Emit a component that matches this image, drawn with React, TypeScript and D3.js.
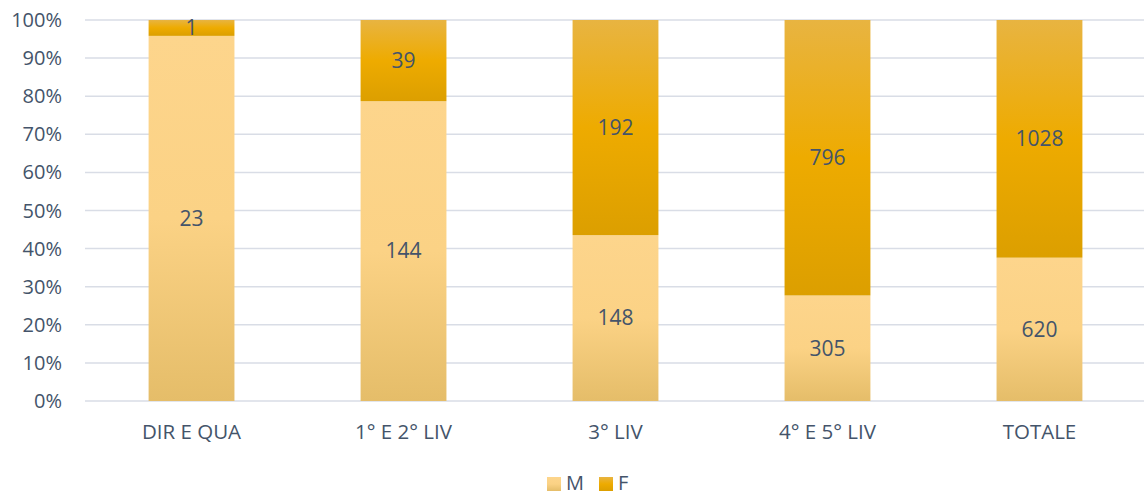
import { useEffect, useRef } from "react";
import * as d3 from "d3";

const categories = ["DIR E QUA", "1° E 2° LIV", "3° LIV", "4° E 5° LIV", "TOTALE"];
const maleValues = [23, 144, 148, 305, 620];
const femaleValues = [1, 39, 192, 796, 1028];
const yTicks = [0, 0.1, 0.2, 0.3, 0.4, 0.5, 0.6, 0.7, 0.8, 0.9, 1];
const seriesNames = ["M", "F"];

export default function App() {
  const ref = useRef<SVGSVGElement | null>(null);

  useEffect(() => {
    if (!ref.current) return;
    const svg = d3.select(ref.current);
    svg.selectAll("*").remove();

    const width = 1144;
    const height = 495;
    const margin = { top: 20, right: -2, bottom: 94, left: 85 };
    const font = "'Open Sans', 'Noto Sans', sans-serif";
    const textColor = "#44546a";

    const defs = svg.append("defs");
    const gM = defs.append("linearGradient").attr("id", "gradM").attr("x1", 0).attr("y1", 0).attr("x2", 0).attr("y2", 1);
    gM.append("stop").attr("offset", "0%").attr("stop-color", "#fdd58c");
    gM.append("stop").attr("offset", "50%").attr("stop-color", "#fbd285");
    gM.append("stop").attr("offset", "100%").attr("stop-color", "#e5bd69");
    const gF = defs.append("linearGradient").attr("id", "gradF").attr("x1", 0).attr("y1", 0).attr("x2", 0).attr("y2", 1);
    gF.append("stop").attr("offset", "0%").attr("stop-color", "#e8b441");
    gF.append("stop").attr("offset", "50%").attr("stop-color", "#eeab00");
    gF.append("stop").attr("offset", "100%").attr("stop-color", "#dc9f00");

    const x = d3.scaleBand<string>()
      .domain(categories)
      .range([margin.left, width - margin.right])
      .paddingInner(0.595)
      .paddingOuter(0.3);

    const y = d3.scaleLinear().domain([0, 1]).range([height - margin.bottom, margin.top]);

    // gridlines
    svg.append("g")
      .selectAll("line")
      .data(yTicks)
      .join("line")
      .attr("x1", 85)
      .attr("x2", width)
      .attr("y1", d => y(d))
      .attr("y2", d => y(d))
      .attr("stroke", "#d9dde6")
      .attr("stroke-width", 1.5);

    // y tick labels
    svg.append("g")
      .selectAll("text")
      .data(yTicks)
      .join("text")
      .attr("x", 62)
      .attr("y", d => y(d))
      .attr("dy", "0.35em")
      .attr("text-anchor", "end")
      .attr("fill", textColor)
      .style("font-family", font)
      .style("font-size", "20px")
      .text(d => `${Math.round(d * 100)}%`);

    const data = categories.map((c, i) => {
      const total = maleValues[i] + femaleValues[i];
      return { cat: c, m: maleValues[i], f: femaleValues[i], mp: maleValues[i] / total };
    });

    const bars = svg.append("g");
    // M segments
    bars.selectAll(".m")
      .data(data)
      .join("rect")
      .attr("class", "m")
      .attr("x", d => x(d.cat) || 0)
      .attr("width", x.bandwidth())
      .attr("y", d => y(d.mp))
      .attr("height", d => y(0) - y(d.mp))
      .attr("fill", "url(#gradM)");
    // F segments
    bars.selectAll(".f")
      .data(data)
      .join("rect")
      .attr("class", "f")
      .attr("x", d => x(d.cat) || 0)
      .attr("width", x.bandwidth())
      .attr("y", y(1))
      .attr("height", d => y(d.mp) - y(1))
      .attr("fill", "url(#gradF)");

    // value labels
    const labels = svg.append("g")
      .attr("fill", textColor)
      .style("font-family", font)
      .style("font-size", "21px")
      .attr("text-anchor", "middle");
    labels.selectAll(".lm")
      .data(data)
      .join("text")
      .attr("x", d => (x(d.cat) || 0) + x.bandwidth() / 2)
      .attr("y", d => (y(0) + y(d.mp)) / 2)
      .attr("dy", "0.35em")
      .text(d => d.m);
    labels.selectAll(".lf")
      .data(data)
      .join("text")
      .attr("x", d => (x(d.cat) || 0) + x.bandwidth() / 2)
      .attr("y", d => (y(1) + y(d.mp)) / 2)
      .attr("dy", "0.35em")
      .text(d => d.f);

    // category labels
    svg.append("g")
      .selectAll("text")
      .data(categories)
      .join("text")
      .attr("x", d => (x(d) || 0) + x.bandwidth() / 2)
      .attr("y", 432)
      .attr("dy", "0.35em")
      .attr("text-anchor", "middle")
      .attr("fill", textColor)
      .style("font-family", font)
      .style("font-size", "20.5px")
      .text(d => d);

    // legend
    const legend = svg.append("g");
    const legendX = [547, 599];
    seriesNames.forEach((name, i) => {
      legend.append("rect")
        .attr("x", legendX[i])
        .attr("y", 477)
        .attr("width", 14)
        .attr("height", 14)
        .attr("fill", i === 0 ? "url(#gradM)" : "url(#gradF)");
      legend.append("text")
        .attr("x", legendX[i] + 19)
        .attr("y", 483)
        .attr("dy", "0.35em")
        .attr("fill", textColor)
        .style("font-family", font)
        .style("font-size", "20px")
        .text(name);
    });
  }, []);

  return (
    <svg
      ref={ref}
      width={1144}
      height={495}
      style={{ position: "absolute", left: 0, top: 0, background: "#fff" }}
    />
  );
}
